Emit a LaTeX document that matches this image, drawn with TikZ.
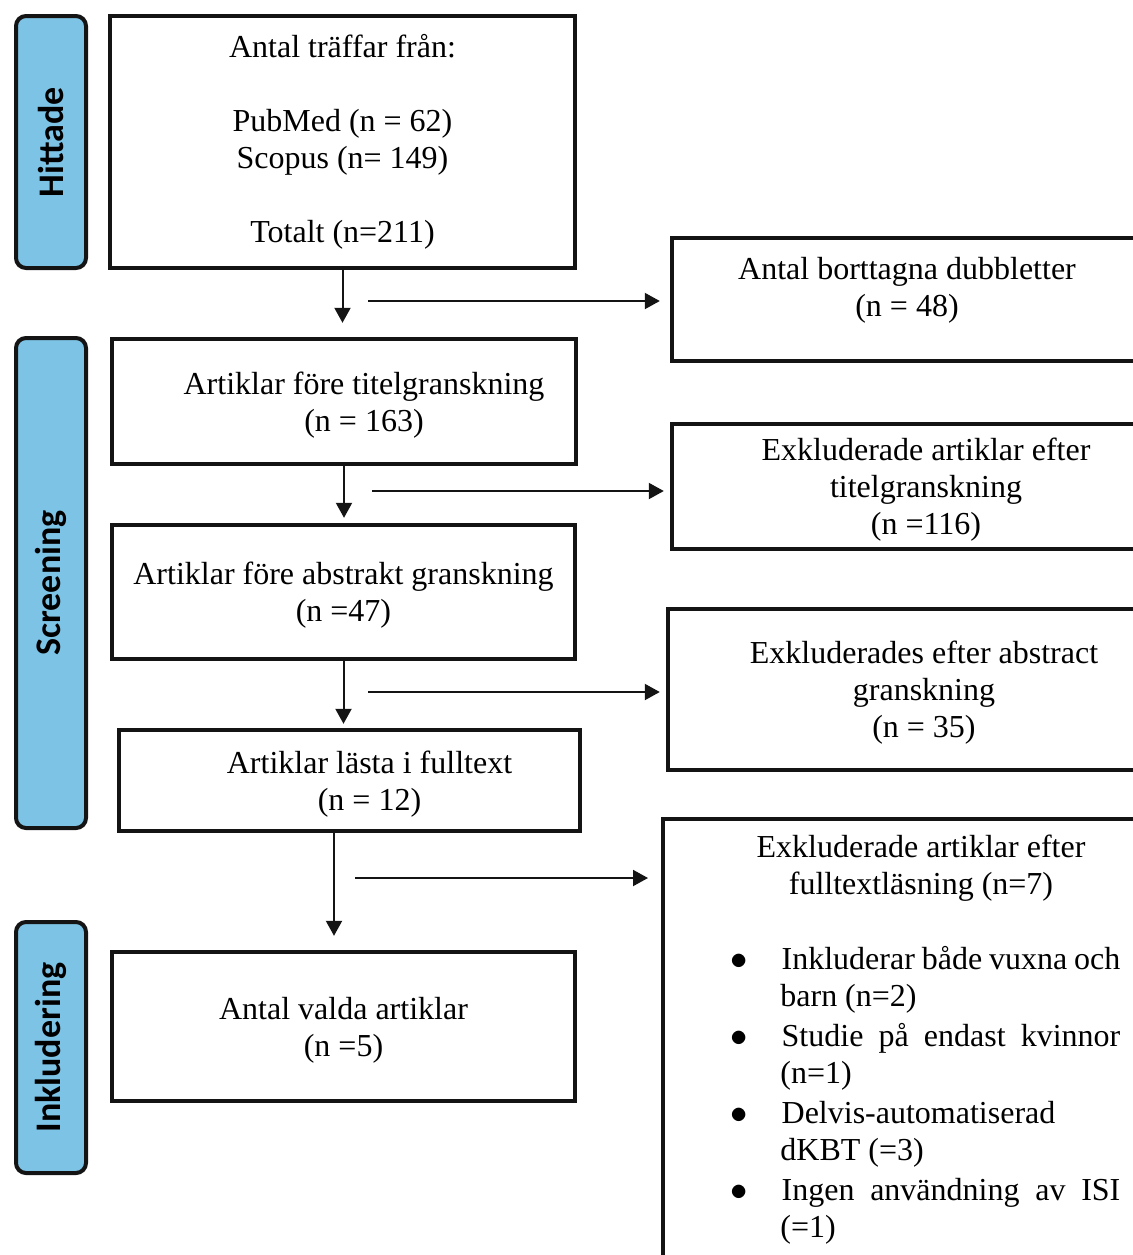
\documentclass[tikz,border=0pt]{standalone}
\usepackage{fontspec}
\setmainfont{Liberation Serif}
\newfontfamily\sidefont{Carlito}
\usepackage{tikz}
\usetikzlibrary{arrows.meta,positioning,calc}
\definecolor{stageblue}{RGB}{125,195,230}
\definecolor{flowdark}{RGB}{20,20,20}
\newcommand{\nudge}{\hspace*{20pt}}

\begin{document}
\begin{tikzpicture}[
    x=0.5pt, y=-0.5pt,
    every node/.style={font=\fontsize{16}{18.5}\selectfont, align=center},
    stage/.style={rectangle, draw=flowdark, fill=stageblue, rounded corners=5pt, line width=2pt, rotate=90, minimum height=35pt, inner sep=0pt, font=\sidefont\fontsize{18}{20}\selectfont\bfseries},
    block/.style={rectangle, draw=flowdark, line width=2.2pt, inner sep=0pt},
    lowtext/.style={block, text depth=-1.5pt},
    exblock/.style={lowtext},
    arrow/.style={-{Triangle[length=7.5pt,width=8pt]}, line width=1pt, draw=flowdark}
]
    \path[use as bounding box, clip] (0,0) rectangle (1133,1255);

    % phases on the left
    \node[stage, minimum width=126pt] (hit) at (51,142) {Hittade};
    \node[stage, minimum width=245pt] (scr) at (51,583) {Screening};
    \node[stage, minimum width=125.5pt] (inc) at (51,1047.5) {Inkludering};

    % main column
    \node[block, minimum width=232.5pt, minimum height=126pt] (hits) at (342.5,142) {Antal träffar från:\\[18.5pt] PubMed (n = 62)\\ Scopus (n= 149)\\[18.5pt] Totalt (n=211)};
    \node[lowtext, minimum width=232pt, minimum height=62.5pt] (title) at (344,401.5) {\nudge Artiklar före titelgranskning\\\nudge(n = 163)};
    \node[lowtext, minimum width=231.5pt, minimum height=67pt, text depth=-3pt] (abstr) at (343.5,592) {Artiklar före abstrakt granskning\\(n =47)};
    \node[lowtext, minimum width=230.5pt, minimum height=50.5pt] (full) at (349.5,780.5) {\nudge Artiklar lästa i fulltext\\\nudge(n = 12)};
    \node[lowtext, minimum width=231.5pt, minimum height=74.5pt] (incl) at (343.5,1026.5) {Antal valda artiklar\\(n =5)};

    % exclusions on the right
    \node[exblock, minimum width=235pt, minimum height=61.5pt, text depth=12.5pt] (dup) at (907,299.5) {Antal borttagna dubbletter\\(n = 48)};
    \node[exblock, minimum width=254pt, minimum height=62.5pt, text depth=-5pt] (titleex) at (926,486.5) {Exkluderade artiklar efter\\titelgranskning\\(n =116)};
    \node[exblock, minimum width=256pt, minimum height=80.5pt] (abstrex) at (924,689.5) {Exkluderades efter abstract\\granskning\\(n = 35)};
    \node[block, anchor=north west, minimum width=260pt, minimum height=250pt] (fullex) at (661,817) {};
    \node[anchor=north] (fullhead) at (921,828) {Exkluderade artiklar efter\\fulltextläsning (n=7)};
    \node[anchor=north west, inner sep=0pt] (fulllist) at (730,946) {%
      \begin{minipage}{195pt}
        \hyphenpenalty=10000 \exhyphenpenalty=10000
        \begin{list}{$\bullet$}{\leftmargin=25pt \labelwidth=8pt \labelsep=17pt
            \itemsep=1.5pt \parsep=0pt \topsep=0pt \partopsep=0pt}
          \item Inkluderar både vuxna och barn (n=2)
          \item Studie på endast kvinnor (n=1)
          \item Delvis-automatiserad dKBT (=3)
          \item Ingen användning av ISI (=1)
        \end{list}
      \end{minipage}};

    % flow
    \coordinate (fullout) at ([xshift=-7.75pt]full.south);
    \draw[arrow, shorten >=7pt] (hits.south) -- (hits.south |- title.north);
    \draw[arrow, shorten >=2.5pt] (title.south) -- (title.south |- abstr.north);
    \draw[arrow, shorten >=2pt] (abstr.south) -- (abstr.south |- full.north);
    \draw[arrow, shorten >=7pt] (fullout) -- (fullout |- incl.north);

    \coordinate (dupin) at (368,301);
    \coordinate (titlein) at (372,491);
    \coordinate (abstrin) at (368,692);
    \coordinate (fullin) at (355,878);
    \draw[arrow, shorten >=5pt] (dupin) -- (dupin -| dup.west);
    \draw[arrow, shorten >=3pt] (titlein) -- (titlein -| titleex.west);
    \draw[arrow, shorten >=3pt] (abstrin) -- (abstrin -| abstrex.west);
    \draw[arrow, shorten >=6.5pt] (fullin) -- (fullin -| fullex.west);
\end{tikzpicture}
\end{document}
